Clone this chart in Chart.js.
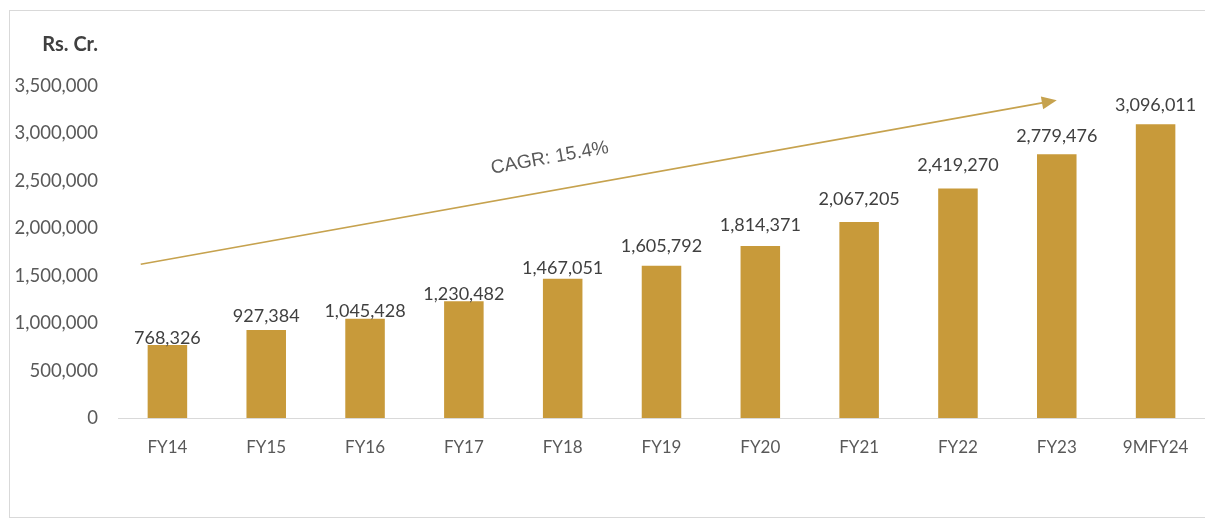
<!DOCTYPE html>
<html>
<head>
<meta charset="utf-8">
<script src="https://cdn.jsdelivr.net/npm/chart.js@4"></script>
<style>
  html, body { margin: 0; padding: 0; background: #fff; overflow: hidden; }
  #frame { position: absolute; left: 9px; top: 10px; width: 1205px; height: 508px; border: 1px solid #d9d9d9; box-sizing: border-box; }
  #wrap { position: absolute; left: 0; top: 0; width: 1205px; height: 519px; }
</style>
</head>
<body>
<div id="frame"></div>
<div id="wrap"><canvas id="chart"></canvas></div>
<script>
const years = ['FY14', 'FY15', 'FY16', 'FY17', 'FY18', 'FY19', 'FY20', 'FY21', 'FY22', 'FY23', '9MFY24'];
const amounts = [768326, 927384, 1045428, 1230482, 1467051, 1605792, 1814371, 2067205, 2419270, 2779476, 3096011];
const yTicks = [0, 500000, 1000000, 1500000, 2000000, 2500000, 3000000, 3500000];

// label gap above each bar (px), labels were hand placed in the original
const labelGap = [7, 14, 8, 7, 11, 19, 21, 23, 23, 18, 19];

// trend arrow, in category index / value units
const arrowFrom = { idx: -0.27, val: 1620000 };
const arrowTo = { idx: 9.0, val: 3350000 };
const cagrText = 'CAGR: 15.4%';
const cagrAt = { idx: 3.87, val: 2740000 };

const gold = '#C89A3A';

const extras = {
  id: 'extras',
  afterDatasetsDraw(chart) {
    const ctx = chart.ctx;
    const x = chart.scales.x, y = chart.scales.y;

    // value labels
    const bars = chart.getDatasetMeta(0).data;
    ctx.save();
    ctx.font = '18px Lato';
    ctx.fillStyle = '#404040';
    ctx.textAlign = 'center';
    ctx.textBaseline = 'middle';
    bars.forEach((bar, i) => {
      ctx.fillText(amounts[i].toLocaleString('en-US'), bar.x, bar.y - labelGap[i]);
    });
    ctx.restore();

    // arrow
    const px = v => x.getPixelForValue(0) + v * (x.getPixelForValue(1) - x.getPixelForValue(0));
    const x1 = px(arrowFrom.idx), y1 = y.getPixelForValue(arrowFrom.val);
    const x2 = px(arrowTo.idx), y2 = y.getPixelForValue(arrowTo.val);
    const ang = Math.atan2(y2 - y1, x2 - x1);
    ctx.save();
    ctx.strokeStyle = '#C6A24E';
    ctx.fillStyle = '#C6A24E';
    ctx.lineWidth = 1.6;
    ctx.beginPath();
    ctx.moveTo(x1, y1);
    ctx.lineTo(x2 - 12 * Math.cos(ang), y2 - 12 * Math.sin(ang));
    ctx.stroke();
    ctx.translate(x2, y2);
    ctx.rotate(ang);
    ctx.beginPath();
    ctx.moveTo(0, 0);
    ctx.lineTo(-15, -6.5);
    ctx.lineTo(-15, 6.5);
    ctx.closePath();
    ctx.fill();
    ctx.restore();

    // CAGR text
    ctx.save();
    ctx.translate(px(cagrAt.idx), y.getPixelForValue(cagrAt.val));
    ctx.rotate(ang);
    ctx.font = '19px "Liberation Sans"';
    ctx.fillStyle = '#595959';
    ctx.textAlign = 'center';
    ctx.textBaseline = 'middle';
    ctx.fillText(cagrText, 0, 0);
    ctx.restore();

    // unit label
    ctx.save();
    ctx.font = 'bold 20px Lato';
    ctx.fillStyle = '#404040';
    ctx.textAlign = 'right';
    ctx.textBaseline = 'middle';
    ctx.fillText('Rs. Cr.', 98, 45);
    ctx.restore();
  }
};

new Chart(document.getElementById('chart'), {
  type: 'bar',
  data: {
    labels: years,
    datasets: [{
      data: amounts,
      backgroundColor: gold,
      barPercentage: 0.8,
      categoryPercentage: 0.5
    }]
  },
  options: {
    responsive: true,
    maintainAspectRatio: false,
    animation: false,
    layout: { padding: { top: 86, left: 0, right: 0, bottom: 0 } },
    plugins: { legend: { display: false }, tooltip: { enabled: false } },
    scales: {
      x: {
        grid: { display: false },
        border: { display: true, color: '#d9d9d9', width: 1 },
        ticks: { color: '#595959', font: { family: 'Lato', size: 17 }, padding: 11 },
        afterFit: s => { s.height = 101; }
      },
      y: {
        min: 0,
        max: 3500000,
        afterBuildTicks: s => { s.ticks = yTicks.map(v => ({ value: v })); },
        grid: { display: false },
        border: { display: false },
        ticks: {
          color: '#595959',
          font: { family: 'Lato', size: 18.5 },
          padding: 12,
          callback: v => v.toLocaleString('en-US')
        },
        afterFit: s => { s.width = 118; }
      }
    }
  },
  plugins: [extras]
});
</script>
</body>
</html>
